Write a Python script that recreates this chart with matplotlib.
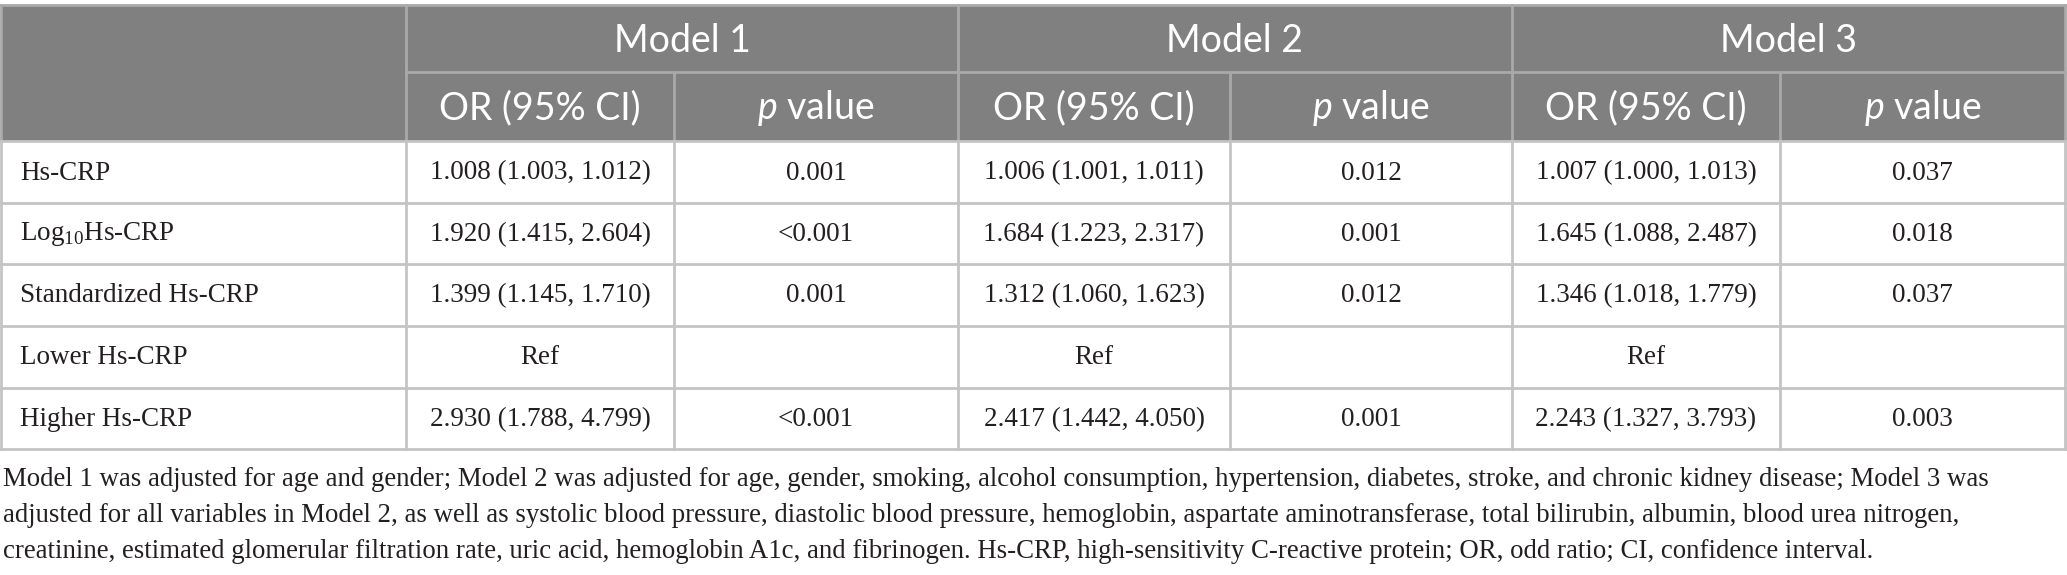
import matplotlib.pyplot as plt

plt.rcParams['mathtext.fontset'] = 'custom'
plt.rcParams['mathtext.rm'] = 'Liberation Serif'
plt.rcParams['mathtext.it'] = 'Lato:italic'

# dane tabeli
models = ['Model 1', 'Model 2', 'Model 3']
sub_headers = ['OR (95% CI)', r'$\mathit{p}$ value']
row_labels = ['Hs-CRP', r'Log$_{\mathrm{10}}$Hs-CRP', 'Standardized Hs-CRP',
              'Lower Hs-CRP', 'Higher Hs-CRP']
or_m1 = ['1.008 (1.003, 1.012)', '1.920 (1.415, 2.604)', '1.399 (1.145, 1.710)', 'Ref', '2.930 (1.788, 4.799)']
p_m1 = ['0.001', '<0.001', '0.001', '', '<0.001']
or_m2 = ['1.006 (1.001, 1.011)', '1.684 (1.223, 2.317)', '1.312 (1.060, 1.623)', 'Ref', '2.417 (1.442, 4.050)']
p_m2 = ['0.012', '0.001', '0.012', '', '0.001']
or_m3 = ['1.007 (1.000, 1.013)', '1.645 (1.088, 2.487)', '1.346 (1.018, 1.779)', 'Ref', '2.243 (1.327, 3.793)']
p_m3 = ['0.037', '0.018', '0.037', '', '0.003']
footnote = [
    'Model 1 was adjusted for age and gender; Model 2 was adjusted for age, gender, smoking, alcohol consumption, '
    'hypertension, diabetes, stroke, and chronic kidney disease; Model 3 was',
    'adjusted for all variables in Model 2, as well as systolic blood pressure, diastolic blood pressure, hemoglobin, '
    'aspartate aminotransferase, total bilirubin, albumin, blood urea nitrogen,',
    'creatinine, estimated glomerular filtration rate, uric acid, hemoglobin A1c, and fibrinogen. Hs-CRP, '
    'high-sensitivity C-reactive protein; OR, odd ratio; CI, confidence interval.',
]

columns = [or_m1, p_m1, or_m2, p_m2, or_m3, p_m3]

# geometria w pikselach
W, H = 2067, 575
col_x = [1, 406, 674, 958, 1230, 1512, 1780, 2065]
row_y = [5, 72, 141, 203, 264, 326, 388, 449]
header_bg = '#7f807f'
header_line = '#a9a9a9'
body_line = '#c4c4c4'

fig = plt.figure(figsize=(W / 100, H / 100), dpi=100)
ax = fig.add_axes([0, 0, 1, 1])
ax.set_xlim(0, W)
ax.set_ylim(H, 0)
ax.axis('off')

# tło nagłówka
ax.add_patch(plt.Rectangle((col_x[0], row_y[0]), col_x[-1] - col_x[0], row_y[2] - row_y[0],
                           facecolor=header_bg, edgecolor='none'))

# linie w nagłówku
ax.plot([col_x[0], col_x[-1]], [row_y[0], row_y[0]], color=header_line, lw=2)
ax.plot([col_x[1], col_x[-1]], [row_y[1], row_y[1]], color=header_line, lw=2)
for i, x in enumerate(col_x):
    if i in (2, 4, 6):
        ax.plot([x, x], [row_y[1], row_y[2]], color=header_line, lw=2)
    else:
        ax.plot([x, x], [row_y[0], row_y[2]], color=header_line, lw=2)

# linie w części z danymi
for y in row_y[2:]:
    ax.plot([col_x[0], col_x[-1]], [y, y], color=body_line, lw=2)
for x in col_x:
    ax.plot([x, x], [row_y[2], row_y[-1]], color=body_line, lw=2)

# nagłówki
hfont = dict(family='Lato', fontsize=27, color='white', va='center', ha='center')
for m, name in enumerate(models):
    xc = (col_x[1 + 2 * m] + col_x[3 + 2 * m]) / 2
    ax.text(xc, (row_y[0] + row_y[1]) / 2 + 2, name, **hfont)
    for s, sub in enumerate(sub_headers):
        xc = (col_x[1 + 2 * m + s] + col_x[2 + 2 * m + s]) / 2
        ax.text(xc, (row_y[1] + row_y[2]) / 2 + 2, sub, **hfont)

# dane
bfont = dict(family='Liberation Serif', fontsize=19.5, color='#231f20', va='center')
for r, label in enumerate(row_labels):
    yc = (row_y[2 + r] + row_y[3 + r]) / 2 + 1
    ax.text(20, yc, label, ha='left', **bfont)
    for c, col in enumerate(columns):
        xc = (col_x[1 + c] + col_x[2 + c]) / 2
        ax.text(xc, yc, col[r], ha='center', **bfont)

# przypis
for i, line in enumerate(footnote):
    ax.text(3, 479 + i * 36, line, ha='left', **dict(bfont, fontsize=19.3))

fig.savefig('out.png', dpi=100)
